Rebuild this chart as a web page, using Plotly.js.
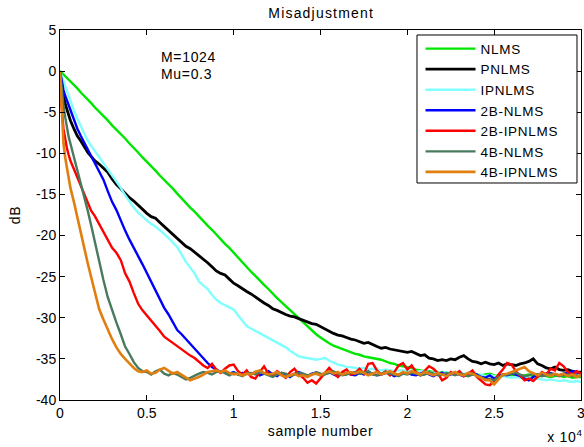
<!DOCTYPE html>
<html>
<head>
<meta charset="utf-8">
<script src="https://cdn.plot.ly/plotly-3.0.1.min.js"></script>
<style>
html,body{margin:0;padding:0;background:#fff;}
#chart{width:584px;height:447px;}
#chart .legendtext, #chart .xtitle, #chart .ytitle, #chart .annotation-text{letter-spacing:0.7px;}
#chart .gtitle{letter-spacing:1.2px;}
</style>
</head>
<body>
<div id="chart"></div>
<script>
// sample number grid
const sampleNumber = [0,100,200,300,400,500,600,800,1000,1200,1400,1600,1800,2000,
2250,2500,2750,3000,3250,3500,3750,4000,4250,4500,4750,
5000,5250,5500,5750,6000,6250,6500,6750,7000,7250,7500,7750,
8000,8250,8500,8750,9000,9250,9500,9750,10000,10250,10500,10750,
11000,11250,11500,11750,12000,12250,12500,12750,13000,13250,13500,13750,
14000,14250,14500,14750,15000,15250,15500,15750,16000,16250,16500,16750,
17000,17250,17500,17750,18000,18250,18500,18750,19000,19250,19500,19750,
20000,20250,20500,20750,21000,21250,21500,21750,22000,22250,22500,22750,
23000,23250,23500,23750,24000,24250,24500,24750,25000,25250,25500,25750,
26000,26250,26500,26750,27000,27250,27500,27750,28000,28250,28500,28750,
29000,29250,29500,29750,30000];

const seriesNames = ['NLMS','PNLMS','IPNLMS','2B-NLMS','2B-IPNLMS','4B-NLMS','4B-IPNLMS'];

const nlms = [0,-0.2,-0.4,-0.6,-0.8,-1.0,-1.25,-1.7,-2.1,-2.6,-3.0,-3.5,-3.9,-4.4,
-4.9,-5.5,-6.0,-6.6,-7.1,-7.7,-8.2,-8.8,-9.3,-9.9,-10.5,
-11.0,-11.6,-12.1,-12.7,-13.2,-13.8,-14.3,-14.9,-15.5,-16.0,-16.6,-17.1,
-17.7,-18.2,-18.8,-19.3,-19.9,-20.4,-21.0,-21.5,-22.1,-22.6,-23.2,-23.8,
-24.4,-24.9,-25.5,-26.0,-26.5,-27.1,-27.6,-28.1,-28.6,-29.1,-29.6,-30.1,
-30.6,-31.1,-31.6,-32.0,-32.4,-32.8,-33.1,-33.4,-33.6,-33.8,-34.0,-34.2,
-34.4,-34.5,-34.7,-34.8,-34.9,-35.0,-35.1,-35.3,-35.5,-35.6,-35.8,-35.9,
-36.0,-36.1,-36.3,-36.4,-36.5,-36.5,-36.6,-36.7,-36.6,-36.7,-36.8,-36.7,
-36.8,-36.9,-36.8,-36.7,-36.9,-37.0,-36.9,-36.8,-37.0,-37.1,-36.9,-37.0,
-37.0,-36.9,-37.1,-37.0,-36.9,-37.1,-37.2,-37.0,-37.1,-37.2,-37.1,-37.0,
-37.2,-37.1,-37.3,-37.2,-37.2];

const pnlms = [0,-1.8,-3.0,-4.0,-4.7,-5.3,-6.0,-7.0,-7.9,-8.5,-9.2,-9.9,-10.4,-10.9,
-11.3,-11.8,-12.3,-13.1,-13.8,-14.3,-14.9,-15.4,-15.8,-16.3,-16.9,
-17.3,-17.7,-17.9,-18.4,-18.9,-19.3,-19.8,-20.3,-20.8,-21.3,-21.6,-22.0,
-22.5,-22.9,-23.3,-23.8,-24.3,-24.6,-24.8,-25.3,-25.8,-26.1,-26.5,-26.8,
-27.1,-27.5,-27.9,-28.2,-28.5,-28.9,-29.1,-29.4,-29.6,-29.8,-29.9,-30.1,
-30.3,-30.5,-30.7,-30.8,-31.1,-31.4,-31.6,-31.9,-32.1,-32.2,-32.4,-32.6,
-32.7,-32.9,-33.1,-33.0,-33.3,-33.5,-33.7,-33.6,-33.8,-33.9,-34.0,-34.1,
-34.2,-34.1,-34.4,-34.6,-34.5,-34.9,-35.0,-35.2,-35.1,-35.2,-35.0,-35.1,
-34.8,-34.6,-35.0,-35.3,-35.4,-35.6,-35.4,-35.6,-35.7,-35.5,-35.8,-35.6,
-35.7,-35.8,-35.6,-35.5,-35.3,-35.0,-35.6,-35.8,-36.1,-36.2,-36.0,-36.3,
-36.4,-36.3,-36.5,-36.6,-36.6];

const ipnlms = [0,-0.6,-1.3,-1.9,-2.6,-3.2,-3.8,-4.8,-5.8,-6.7,-7.6,-8.5,-9.1,-9.7,
-10.4,-11.1,-11.8,-12.6,-13.4,-14.2,-15.1,-15.9,-16.6,-17.2,-17.7,
-18.1,-18.6,-18.9,-19.3,-19.8,-20.3,-20.8,-21.4,-22.3,-23.2,-23.9,-24.6,
-25.6,-26.1,-26.5,-27.2,-27.8,-28.2,-28.5,-28.8,-29.0,-29.7,-30.4,-31.0,
-31.3,-31.6,-31.9,-32.2,-32.4,-32.7,-33.0,-33.3,-33.6,-34.0,-34.4,-34.7,
-34.8,-34.9,-35.0,-35.1,-35.0,-34.9,-35.2,-35.5,-35.7,-35.8,-36.0,-36.0,
-36.1,-36.2,-36.1,-36.3,-36.2,-36.3,-36.4,-36.3,-36.4,-36.5,-36.4,-36.4,
-36.5,-36.4,-36.6,-36.5,-36.5,-36.6,-36.7,-36.6,-36.7,-36.6,-36.8,-36.7,
-36.7,-36.8,-36.9,-36.8,-37.0,-36.9,-37.1,-37.0,-37.1,-37.2,-37.1,-37.2,
-37.3,-37.2,-37.3,-37.4,-37.3,-37.5,-37.4,-37.5,-37.6,-37.5,-37.6,-37.7,
-37.6,-37.7,-37.8,-37.7,-37.8];

const nlms2b = [0,-1.3,-2.3,-3.0,-3.6,-4.2,-4.8,-5.9,-7.0,-7.9,-8.7,-9.5,-10.3,-11.1,
-12.1,-13.2,-14.6,-15.9,-16.9,-18.2,-19.4,-20.5,-21.6,-22.5,-23.5,
-24.6,-25.6,-26.7,-27.7,-28.8,-29.6,-30.5,-31.5,-32.0,-32.6,-33.2,-33.8,
-34.4,-34.9,-35.5,-36.0,-36.3,-36.6,-36.5,-36.8,-36.6,-36.9,-36.7,-36.8,
-36.9,-36.6,-37.0,-36.8,-36.5,-36.9,-37.1,-36.7,-36.9,-37.2,-36.8,-36.6,
-36.9,-37.1,-36.8,-36.7,-37.0,-36.8,-36.6,-36.9,-37.1,-36.8,-36.7,-36.9,
-37.0,-36.7,-36.9,-36.6,-36.8,-37.0,-36.9,-36.7,-36.8,-37.1,-36.9,-36.8,
-36.7,-36.9,-37.0,-36.8,-36.6,-36.9,-37.1,-36.8,-36.7,-37.0,-36.9,-36.8,
-36.9,-37.1,-36.8,-36.7,-36.9,-37.2,-37.3,-37.0,-37.4,-37.1,-36.9,-37.0,
-36.8,-36.9,-37.1,-37.4,-37.6,-37.2,-36.9,-37.0,-36.8,-36.7,-36.9,-37.0,
-36.8,-36.7,-36.5,-36.6,-36.8];

const ipnlms2b = [0,-4.5,-7.0,-8.3,-9.4,-10.2,-10.9,-11.9,-12.9,-14.0,-15.1,-16.1,-17.0,-17.6,
-18.6,-19.6,-20.6,-21.5,-22.1,-23.0,-24.6,-25.6,-27.0,-28.3,-29.1,
-29.7,-30.3,-30.9,-31.6,-32.3,-32.7,-33.0,-33.4,-33.9,-34.3,-34.6,-34.9,
-35.4,-35.8,-36.1,-35.6,-36.3,-36.7,-36.2,-35.8,-35.7,-36.5,-36.9,-36.4,
-37.2,-37.4,-36.6,-35.9,-36.8,-37.1,-36.5,-36.9,-37.3,-36.6,-36.2,-36.9,
-37.3,-37.9,-37.6,-38.0,-37.4,-36.8,-36.1,-36.7,-37.2,-36.6,-36.3,-36.9,
-36.7,-36.2,-36.8,-35.6,-35.5,-36.4,-36.9,-36.5,-37.0,-36.6,-35.8,-35.5,
-36.3,-35.8,-36.6,-37.0,-36.4,-35.9,-36.2,-36.7,-37.6,-37.3,-36.6,-36.9,
-36.5,-37.1,-36.8,-36.4,-37.2,-37.6,-38.1,-38.2,-37.7,-36.9,-36.3,-35.5,
-35.7,-36.5,-37.0,-37.6,-37.4,-37.7,-37.2,-36.6,-36.9,-36.2,-36.4,-35.5,
-35.9,-36.6,-36.9,-36.5,-36.8];

const nlms4b = [0,-2.5,-4.2,-5.6,-6.9,-8.0,-8.8,-10.4,-12.1,-13.7,-15.4,-17.0,-18.8,-20.8,
-23.3,-25.4,-27.5,-29.2,-30.6,-32.0,-33.5,-34.4,-35.4,-36.1,-36.5,
-36.6,-36.9,-36.5,-36.3,-36.8,-37.0,-36.7,-36.9,-37.2,-37.5,-37.3,-37.0,
-36.8,-36.6,-36.7,-36.9,-36.6,-36.5,-36.8,-37.0,-36.7,-36.9,-37.1,-36.8,
-36.7,-36.9,-36.6,-36.8,-37.0,-37.2,-36.9,-36.7,-36.8,-37.1,-36.9,-36.7,
-36.8,-37.0,-36.9,-36.6,-36.8,-36.9,-36.7,-36.5,-36.8,-37.0,-36.9,-36.7,
-36.6,-36.8,-36.7,-36.5,-36.9,-37.0,-36.8,-36.6,-36.8,-36.9,-37.1,-36.8,
-36.9,-36.7,-36.8,-37.0,-36.9,-36.6,-36.8,-37.0,-36.9,-36.7,-36.8,-37.0,
-36.8,-36.9,-37.1,-36.9,-37.0,-37.3,-37.5,-37.4,-37.6,-37.2,-37.0,-36.9,
-36.8,-36.7,-36.9,-37.1,-37.0,-36.8,-36.9,-37.1,-37.0,-36.8,-36.9,-37.1,
-37.0,-36.9,-37.1,-37.0,-37.1];

const ipnlms4b = [0,-5.5,-8.8,-10.5,-11.8,-13.2,-14.2,-15.9,-17.8,-19.9,-21.6,-23.4,-25.1,-26.9,
-28.9,-30.2,-31.5,-32.6,-33.6,-34.4,-35.0,-35.6,-36.1,-36.5,-36.6,
-36.4,-36.8,-36.7,-36.3,-36.1,-36.5,-36.8,-36.6,-36.9,-37.3,-37.6,-37.4,
-37.2,-36.9,-36.6,-36.5,-36.4,-36.6,-36.4,-36.7,-36.9,-36.8,-37.0,-36.8,
-36.9,-36.6,-36.4,-36.7,-36.9,-36.8,-36.6,-37.0,-37.2,-37.0,-36.8,-37.1,
-37.0,-37.2,-36.9,-36.8,-37.0,-36.7,-36.5,-36.8,-36.6,-36.9,-36.7,-36.6,
-36.8,-36.5,-36.7,-37.0,-36.8,-36.6,-36.9,-36.7,-36.5,-36.8,-36.9,-36.6,
-36.8,-36.5,-36.7,-36.9,-36.6,-36.8,-37.0,-36.7,-36.9,-37.1,-36.8,-36.6,
-36.9,-37.0,-36.7,-36.8,-37.1,-37.3,-37.6,-37.6,-38.1,-37.5,-36.9,-36.8,
-36.6,-36.4,-36.2,-36.0,-36.5,-36.8,-37.0,-36.7,-36.9,-37.1,-36.8,-37.0,
-36.8,-37.1,-36.9,-37.2,-37.0];

const xTickVals = [0,5000,10000,15000,20000,25000,30000];
const xTickText = ['0','0.5','1','1.5','2','2.5','3'];
const yTickVals = [5,0,-5,-10,-15,-20,-25,-30,-35,-40];
const yTickText = ['5','0','-5','-10','-15','-20','-25','-30','-35','-40'];

const seriesData = [nlms, pnlms, ipnlms, nlms2b, ipnlms2b, nlms4b, ipnlms4b];
const seriesColors = ['#00e600','#000000','#80ffff','#0000ff','#ff0000','#4a7a5e','#e07f10'];
const seriesWidths = [2.4, 2.8, 2.4, 2.4, 2.4, 2.4, 2.6];

const FONT = 'Liberation Sans, Arial, Helvetica, sans-serif';
const FS = 14;

const traces = seriesData.map((ys, k) => ({
  type: 'scatter', mode: 'lines', name: seriesNames[k],
  x: sampleNumber, y: ys,
  line: {color: seriesColors[k], width: seriesWidths[k]}
}));

const axisCommon = {
  showline: true, mirror: 'ticks', linecolor: '#000', linewidth: 1,
  ticks: 'inside', ticklen: 5, tickcolor: '#000', tickwidth: 1,
  showgrid: false, zeroline: false, ticklabeloverflow: 'allow',
  tickfont: {family: FONT, size: FS, color: '#000'}
};

const layout = {
  width: 584, height: 447,
  margin: {l: 60, r: 3, t: 30, b: 47},
  paper_bgcolor: '#fff', plot_bgcolor: '#fff',
  font: {family: FONT, size: FS, color: '#000'},
  title: {text: 'Misadjustment', font: {family: FONT, size: FS, color: '#000'}, x: 0.55, xanchor: 'center', y: 0.971, yanchor: 'middle'},
  xaxis: Object.assign({}, axisCommon, {
    range: [0, 30000], tickvals: xTickVals, ticktext: xTickText,
    title: {text: 'sample number', font: {family: FONT, size: FS, color: '#000'}, standoff: 6}
  }),
  yaxis: Object.assign({}, axisCommon, {
    range: [-40, 5], tickvals: yTickVals, ticktext: yTickText,
    title: {text: 'dB', font: {family: FONT, size: FS, color: '#000'}, standoff: 12}
  }),
  showlegend: true,
  legend: {
    x: 0.692, y: 0.991, xanchor: 'left', yanchor: 'top',
    bgcolor: 'rgba(0,0,0,0)', borderwidth: 0,
    font: {family: FONT, size: 13.5, color: '#000'},
    itemwidth: 50,
    tracegroupgap: 0
  },
  shapes: [
    {type: 'rect', xref: 'paper', yref: 'paper', x0: 0.6852, x1: 0.9923, y0: 0.5865, y1: 0.9865,
     line: {color: '#000', width: 1}, fillcolor: '#fff', layer: 'above'}
  ],
  annotations: [
    {xref: 'x', yref: 'y', x: 5800, y: 1.7, text: 'M=1024', showarrow: false, xanchor: 'left', yanchor: 'middle', font: {family: FONT, size: FS, color: '#000'}},
    {xref: 'x', yref: 'y', x: 5800, y: -0.4, text: 'Mu=0.3', showarrow: false, xanchor: 'left', yanchor: 'middle', font: {family: FONT, size: FS, color: '#000'}},
    {xref: 'paper', yref: 'paper', x: 1.003, y: -0.097, text: 'x 10<sup>4</sup>', showarrow: false, xanchor: 'right', yanchor: 'middle', font: {family: FONT, size: FS, color: '#000'}}
  ]
};

Plotly.newPlot('chart', traces, layout, {displayModeBar: false, staticPlot: true});
</script>
</body>
</html>
